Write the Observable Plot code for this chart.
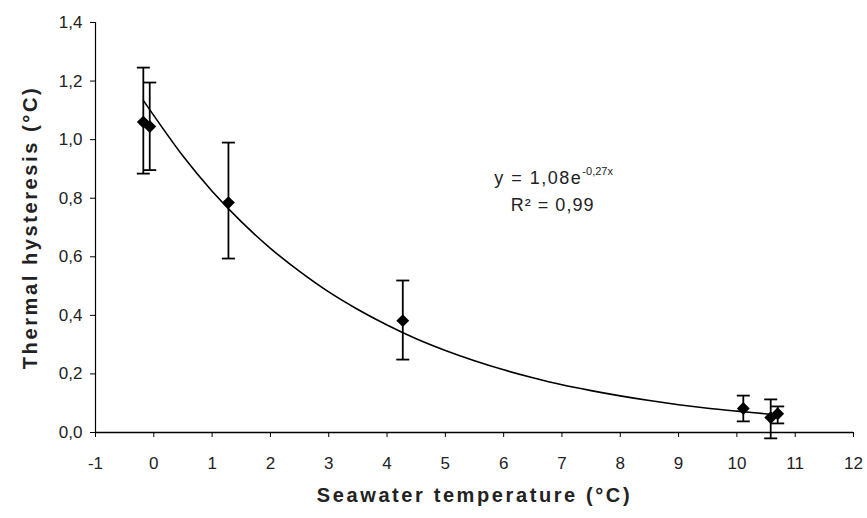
<!DOCTYPE html>
<html>
<head>
<meta charset="utf-8">
<script src="https://cdn.jsdelivr.net/npm/d3@7"></script>
<script src="https://cdn.jsdelivr.net/npm/@observablehq/plot@0.6"></script>
<style>
  html, body { margin: 0; padding: 0; background: #fff; }
  #chart { width: 867px; height: 518px; }
  svg { font-family: "Liberation Sans", Arial, sans-serif; }
</style>
</head>
<body>
<div id="chart"></div>
<script>
// Measured points (seawater temperature °C, thermal hysteresis °C)
const temps      = [-0.18, -0.07, 1.28, 4.27, 10.11, 10.58, 10.70];
const hysteresis = [ 1.060, 1.045, 0.785, 0.382, 0.082, 0.051, 0.064];
const errLow     = [ 0.884, 0.896, 0.594, 0.249, 0.038, -0.020, 0.031];
const errHigh    = [ 1.246, 1.195, 0.990, 0.519, 0.126, 0.113, 0.089];

// Trend line
const trendT = [-0.18, 0.5, 1, 1.5, 2, 2.5, 3, 3.5, 4, 4.5, 5, 5.5, 6, 6.5, 7, 7.5, 8, 8.5, 9, 9.5, 10, 10.7];
const trendH = [1.134, 0.944, 0.824, 0.720, 0.629, 0.550, 0.480, 0.420, 0.367, 0.320, 0.280, 0.245, 0.214, 0.187, 0.163, 0.143, 0.125, 0.109, 0.095, 0.083, 0.073, 0.060];

const xTicks = [-1, 0, 1, 2, 3, 4, 5, 6, 7, 8, 9, 10, 11, 12];
const yTicks = [0, 0.2, 0.4, 0.6, 0.8, 1.0, 1.2, 1.4];

const xTitle = "Seawater temperature (°C)";
const yTitle = "Thermal hysteresis (°C)";
const eqMain = "y = 1,08e";
const eqSup = "-0,27x";
const eqR2 = "R² = 0,99";

const points = temps.map((t, i) => ({t, h: hysteresis[i], lo: errLow[i], hi: errHigh[i]}));
const trend = trendT.map((t, i) => ({t, h: trendH[i]}));

const capSymbol = {
  draw(context, size) {
    const r = Math.sqrt(size / Math.PI);
    context.moveTo(-r, 0);
    context.lineTo(r, 0);
  }
};

const fmt = d => d3.format(".1f")(d).replace(".", ",");

const chart = Plot.plot({
  width: 867,
  height: 518,
  marginLeft: 95,
  marginRight: 14,
  marginTop: 22,
  marginBottom: 86,
  style: {fontFamily: "Liberation Sans, Arial, sans-serif", background: "#fff"},
  x: {domain: [-1, 12]},
  y: {domain: [0, 1.4]},
  marks: [
    Plot.axisX({ticks: xTicks, tickSize: 5, tickPadding: 19, fontSize: 17, label: null, tickFormat: d => String(d), stroke: "#000", color: "#222"}),
    Plot.axisY({ticks: yTicks, tickSize: 5, tickPadding: 8, fontSize: 17, label: null, tickFormat: fmt, stroke: "#000", color: "#222"}),
    Plot.ruleX([-1], {stroke: "#000", strokeWidth: 1.2}),
    Plot.ruleY([0], {stroke: "#000", strokeWidth: 1.5}),
    Plot.line(trend, {x: "t", y: "h", stroke: "#000", strokeWidth: 1.6, curve: "catmull-rom"}),
    Plot.ruleX(points, {x: "t", y1: "lo", y2: "hi", stroke: "#000", strokeWidth: 1.8}),
    Plot.dot(points, {x: "t", y: "lo", symbol: capSymbol, r: 6.5, stroke: "#000", strokeWidth: 1.8, fill: "none"}),
    Plot.dot(points, {x: "t", y: "hi", symbol: capSymbol, r: 6.5, stroke: "#000", strokeWidth: 1.8, fill: "none"}),
    Plot.dot(points, {x: "t", y: "h", symbol: "diamond2", r: 5.8, fill: "#000", stroke: "none"}),
    Plot.text([eqMain], {x: 7.35, y: 0.867, text: d => d, textAnchor: "end", fontSize: 18, fill: "#222"}),
    Plot.text([eqSup], {x: 7.35, y: 0.867, text: d => d, textAnchor: "start", dy: -7, fontSize: 11, fill: "#222"}),
    Plot.text([eqR2], {x: 6.84, y: 0.775, text: d => d, textAnchor: "middle", fontSize: 18, fill: "#222"}),
    Plot.text([xTitle], {frameAnchor: "bottom", dy: 69, text: d => d, fontSize: 20, fontWeight: "bold", fill: "#222"}),
    Plot.text([yTitle], {frameAnchor: "left", dx: -65, rotate: -90, textAnchor: "middle", text: d => d, fontSize: 20, fontWeight: "bold", fill: "#222"})
  ]
});
const sel = d3.select(chart).selectAll("text");
sel.filter(function() { return this.textContent === xTitle || this.textContent === yTitle; })
  .style("letter-spacing", "2.6px");
sel.filter(function() { return this.textContent === eqMain; }).style("letter-spacing", "1.5px");
sel.filter(function() { return this.textContent === eqR2; }).style("letter-spacing", "1px");
document.getElementById("chart").appendChild(chart);
</script>
</body>
</html>
